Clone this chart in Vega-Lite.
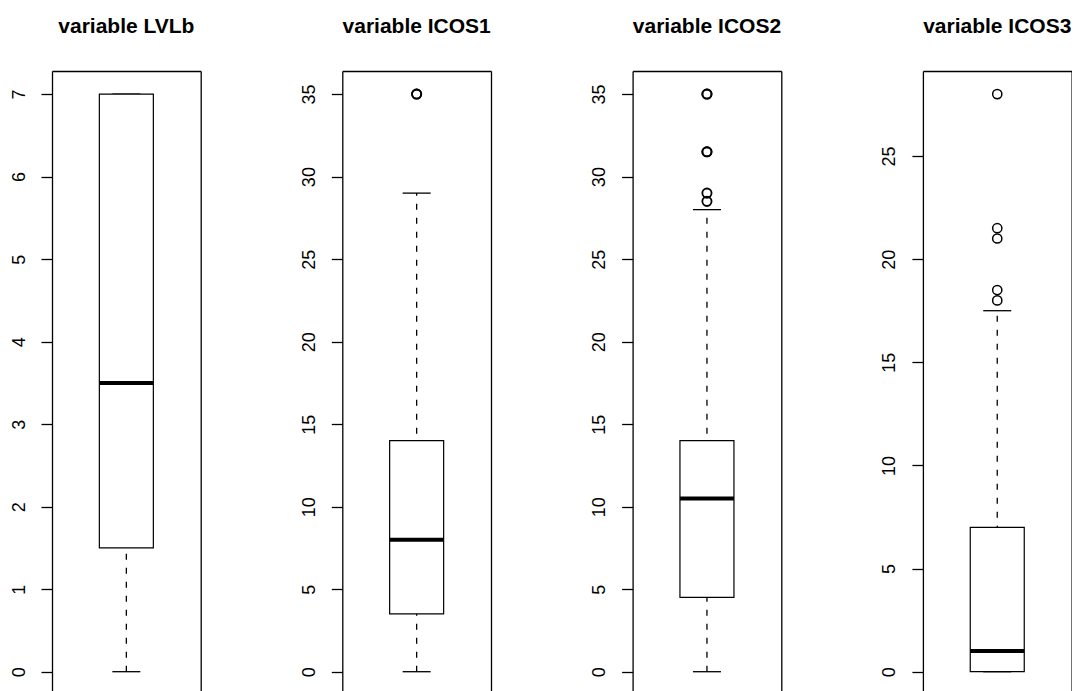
{
  "$schema": "https://vega.github.io/schema/vega-lite/v6.json",
  "padding": {"left": 10, "top": 16, "right": 0, "bottom": 0},
  "background": "white",
  "datasets": {
    "stats": [
      {"variable": "LVLb", "lower": 0, "q1": 1.5, "median": 3.5, "q3": 7, "upper": 7},
      {"variable": "ICOS1", "lower": 0, "q1": 3.5, "median": 8, "q3": 14, "upper": 29},
      {"variable": "ICOS2", "lower": 0, "q1": 4.5, "median": 10.5, "q3": 14, "upper": 28},
      {"variable": "ICOS3", "lower": 0, "q1": 0, "median": 1, "q3": 7, "upper": 17.5}
    ],
    "outliers": [
      {"variable": "ICOS1", "value": 35},
      {"variable": "ICOS1", "value": 35},
      {"variable": "ICOS2", "value": 35},
      {"variable": "ICOS2", "value": 35},
      {"variable": "ICOS2", "value": 31.5},
      {"variable": "ICOS2", "value": 31.5},
      {"variable": "ICOS2", "value": 29},
      {"variable": "ICOS2", "value": 28.5},
      {"variable": "ICOS3", "value": 28},
      {"variable": "ICOS3", "value": 21.5},
      {"variable": "ICOS3", "value": 21},
      {"variable": "ICOS3", "value": 18.5},
      {"variable": "ICOS3", "value": 18}
    ]
  },
  "spacing": 141.3,
  "bounds": "flush",
  "hconcat": [
    {
      "width": 148.7, "height": 620,
      "title": {"text": "variable LVLb"},
      "encoding": {"x": {"datum": 1, "type": "quantitative", "scale": {"domain": [0, 2]}, "axis": {"orient": "top", "domain": true, "ticks": false, "labels": false, "title": null, "grid": false}}},
      "resolve": {"axis": {"y": "independent"}},
      "layer": [
        {"data": {"name": "stats"}, "transform": [{"filter": "datum.variable === 'LVLb'"}],
         "mark": {"type": "rule", "strokeDash": [6, 8], "strokeWidth": 1.3, "color": "black", "opacity": 1},
         "encoding": {"y": {"field": "lower", "type": "quantitative", "scale": {"domain": [-0.234, 7.28], "nice": false, "zero": false}, "axis": {"orient": "left", "values": [0, 1, 2, 3, 4, 5, 6, 7], "title": null}}, "y2": {"field": "upper"}}},
        {"data": {"name": "stats"}, "transform": [{"filter": "datum.variable === 'LVLb'"}],
         "mark": {"type": "tick", "orient": "horizontal", "size": 28, "thickness": 1.3, "color": "black", "opacity": 1},
         "encoding": {"y": {"field": "upper", "type": "quantitative", "scale": {"domain": [-0.234, 7.28], "nice": false, "zero": false}, "axis": {"orient": "right", "labels": false, "ticks": false, "domain": true, "title": null}}}},
        {"data": {"name": "stats"}, "transform": [{"filter": "datum.variable === 'LVLb'"}],
         "mark": {"type": "tick", "orient": "horizontal", "size": 28, "thickness": 1.3, "color": "black", "opacity": 1},
         "encoding": {"y": {"field": "lower", "type": "quantitative", "scale": {"domain": [-0.234, 7.28], "nice": false, "zero": false}, "axis": null}}},
        {"data": {"name": "stats"}, "transform": [{"filter": "datum.variable === 'LVLb'"}],
         "mark": {"type": "bar", "size": 54, "fill": "white", "stroke": "black", "strokeWidth": 1.2, "opacity": 1},
         "encoding": {"y": {"field": "q1", "type": "quantitative", "scale": {"domain": [-0.234, 7.28], "nice": false, "zero": false}, "axis": null}, "y2": {"field": "q3"}}},
        {"data": {"name": "stats"}, "transform": [{"filter": "datum.variable === 'LVLb'"}],
         "mark": {"type": "tick", "orient": "horizontal", "size": 54, "thickness": 4, "color": "black", "opacity": 1},
         "encoding": {"y": {"field": "median", "type": "quantitative", "scale": {"domain": [-0.234, 7.28], "nice": false, "zero": false}, "axis": null}}}
      ]
    },
    {
      "width": 148.7, "height": 620,
      "title": {"text": "variable ICOS1"},
      "encoding": {"x": {"datum": 1, "type": "quantitative", "scale": {"domain": [0, 2]}, "axis": {"orient": "top", "domain": true, "ticks": false, "labels": false, "title": null, "grid": false}}},
      "resolve": {"axis": {"y": "independent"}},
      "layer": [
        {"data": {"name": "stats"}, "transform": [{"filter": "datum.variable === 'ICOS1'"}],
         "mark": {"type": "rule", "strokeDash": [6, 8], "strokeWidth": 1.3, "color": "black", "opacity": 1},
         "encoding": {"y": {"field": "lower", "type": "quantitative", "scale": {"domain": [-1.169, 36.4], "nice": false, "zero": false}, "axis": {"orient": "left", "values": [0, 5, 10, 15, 20, 25, 30, 35], "title": null}}, "y2": {"field": "upper"}}},
        {"data": {"name": "stats"}, "transform": [{"filter": "datum.variable === 'ICOS1'"}],
         "mark": {"type": "tick", "orient": "horizontal", "size": 28, "thickness": 1.3, "color": "black", "opacity": 1},
         "encoding": {"y": {"field": "upper", "type": "quantitative", "scale": {"domain": [-1.169, 36.4], "nice": false, "zero": false}, "axis": {"orient": "right", "labels": false, "ticks": false, "domain": true, "title": null}}}},
        {"data": {"name": "stats"}, "transform": [{"filter": "datum.variable === 'ICOS1'"}],
         "mark": {"type": "tick", "orient": "horizontal", "size": 28, "thickness": 1.3, "color": "black", "opacity": 1},
         "encoding": {"y": {"field": "lower", "type": "quantitative", "scale": {"domain": [-1.169, 36.4], "nice": false, "zero": false}, "axis": null}}},
        {"data": {"name": "stats"}, "transform": [{"filter": "datum.variable === 'ICOS1'"}],
         "mark": {"type": "bar", "size": 54, "fill": "white", "stroke": "black", "strokeWidth": 1.2, "opacity": 1},
         "encoding": {"y": {"field": "q1", "type": "quantitative", "scale": {"domain": [-1.169, 36.4], "nice": false, "zero": false}, "axis": null}, "y2": {"field": "q3"}}},
        {"data": {"name": "stats"}, "transform": [{"filter": "datum.variable === 'ICOS1'"}],
         "mark": {"type": "tick", "orient": "horizontal", "size": 54, "thickness": 4, "color": "black", "opacity": 1},
         "encoding": {"y": {"field": "median", "type": "quantitative", "scale": {"domain": [-1.169, 36.4], "nice": false, "zero": false}, "axis": null}}},
        {"data": {"name": "outliers"}, "transform": [{"filter": "datum.variable === 'ICOS1'"}],
         "mark": {"type": "point", "shape": "circle", "filled": false, "size": 85, "strokeWidth": 1.8, "color": "black", "opacity": 1},
         "encoding": {"y": {"field": "value", "type": "quantitative", "scale": {"domain": [-1.169, 36.4], "nice": false, "zero": false}, "axis": null}}}
      ]
    },
    {
      "width": 148.7, "height": 620,
      "title": {"text": "variable ICOS2"},
      "encoding": {"x": {"datum": 1, "type": "quantitative", "scale": {"domain": [0, 2]}, "axis": {"orient": "top", "domain": true, "ticks": false, "labels": false, "title": null, "grid": false}}},
      "resolve": {"axis": {"y": "independent"}},
      "layer": [
        {"data": {"name": "stats"}, "transform": [{"filter": "datum.variable === 'ICOS2'"}],
         "mark": {"type": "rule", "strokeDash": [6, 8], "strokeWidth": 1.3, "color": "black", "opacity": 1},
         "encoding": {"y": {"field": "lower", "type": "quantitative", "scale": {"domain": [-1.169, 36.4], "nice": false, "zero": false}, "axis": {"orient": "left", "values": [0, 5, 10, 15, 20, 25, 30, 35], "title": null}}, "y2": {"field": "upper"}}},
        {"data": {"name": "stats"}, "transform": [{"filter": "datum.variable === 'ICOS2'"}],
         "mark": {"type": "tick", "orient": "horizontal", "size": 28, "thickness": 1.3, "color": "black", "opacity": 1},
         "encoding": {"y": {"field": "upper", "type": "quantitative", "scale": {"domain": [-1.169, 36.4], "nice": false, "zero": false}, "axis": {"orient": "right", "labels": false, "ticks": false, "domain": true, "title": null}}}},
        {"data": {"name": "stats"}, "transform": [{"filter": "datum.variable === 'ICOS2'"}],
         "mark": {"type": "tick", "orient": "horizontal", "size": 28, "thickness": 1.3, "color": "black", "opacity": 1},
         "encoding": {"y": {"field": "lower", "type": "quantitative", "scale": {"domain": [-1.169, 36.4], "nice": false, "zero": false}, "axis": null}}},
        {"data": {"name": "stats"}, "transform": [{"filter": "datum.variable === 'ICOS2'"}],
         "mark": {"type": "bar", "size": 54, "fill": "white", "stroke": "black", "strokeWidth": 1.2, "opacity": 1},
         "encoding": {"y": {"field": "q1", "type": "quantitative", "scale": {"domain": [-1.169, 36.4], "nice": false, "zero": false}, "axis": null}, "y2": {"field": "q3"}}},
        {"data": {"name": "stats"}, "transform": [{"filter": "datum.variable === 'ICOS2'"}],
         "mark": {"type": "tick", "orient": "horizontal", "size": 54, "thickness": 4, "color": "black", "opacity": 1},
         "encoding": {"y": {"field": "median", "type": "quantitative", "scale": {"domain": [-1.169, 36.4], "nice": false, "zero": false}, "axis": null}}},
        {"data": {"name": "outliers"}, "transform": [{"filter": "datum.variable === 'ICOS2'"}],
         "mark": {"type": "point", "shape": "circle", "filled": false, "size": 85, "strokeWidth": 1.8, "color": "black", "opacity": 1},
         "encoding": {"y": {"field": "value", "type": "quantitative", "scale": {"domain": [-1.169, 36.4], "nice": false, "zero": false}, "axis": null}}}
      ]
    },
    {
      "width": 148.7, "height": 620,
      "title": {"text": "variable ICOS3"},
      "encoding": {"x": {"datum": 1, "type": "quantitative", "scale": {"domain": [0, 2]}, "axis": {"orient": "top", "domain": true, "ticks": false, "labels": false, "title": null, "grid": false}}},
      "resolve": {"axis": {"y": "independent"}},
      "layer": [
        {"data": {"name": "stats"}, "transform": [{"filter": "datum.variable === 'ICOS3'"}],
         "mark": {"type": "rule", "strokeDash": [6, 8], "strokeWidth": 1.3, "color": "black", "opacity": 1},
         "encoding": {"y": {"field": "lower", "type": "quantitative", "scale": {"domain": [-0.935, 29.12], "nice": false, "zero": false}, "axis": {"orient": "left", "values": [0, 5, 10, 15, 20, 25], "title": null}}, "y2": {"field": "upper"}}},
        {"data": {"name": "stats"}, "transform": [{"filter": "datum.variable === 'ICOS3'"}],
         "mark": {"type": "tick", "orient": "horizontal", "size": 28, "thickness": 1.3, "color": "black", "opacity": 1},
         "encoding": {"y": {"field": "upper", "type": "quantitative", "scale": {"domain": [-0.935, 29.12], "nice": false, "zero": false}, "axis": {"orient": "right", "labels": false, "ticks": false, "domain": true, "title": null}}}},
        {"data": {"name": "stats"}, "transform": [{"filter": "datum.variable === 'ICOS3'"}],
         "mark": {"type": "tick", "orient": "horizontal", "size": 28, "thickness": 1.3, "color": "black", "opacity": 1},
         "encoding": {"y": {"field": "lower", "type": "quantitative", "scale": {"domain": [-0.935, 29.12], "nice": false, "zero": false}, "axis": null}}},
        {"data": {"name": "stats"}, "transform": [{"filter": "datum.variable === 'ICOS3'"}],
         "mark": {"type": "bar", "size": 54, "fill": "white", "stroke": "black", "strokeWidth": 1.2, "opacity": 1},
         "encoding": {"y": {"field": "q1", "type": "quantitative", "scale": {"domain": [-0.935, 29.12], "nice": false, "zero": false}, "axis": null}, "y2": {"field": "q3"}}},
        {"data": {"name": "stats"}, "transform": [{"filter": "datum.variable === 'ICOS3'"}],
         "mark": {"type": "tick", "orient": "horizontal", "size": 54, "thickness": 4, "color": "black", "opacity": 1},
         "encoding": {"y": {"field": "median", "type": "quantitative", "scale": {"domain": [-0.935, 29.12], "nice": false, "zero": false}, "axis": null}}},
        {"data": {"name": "outliers"}, "transform": [{"filter": "datum.variable === 'ICOS3'"}],
         "mark": {"type": "point", "shape": "circle", "filled": false, "size": 85, "strokeWidth": 1.5, "color": "black", "opacity": 1},
         "encoding": {"y": {"field": "value", "type": "quantitative", "scale": {"domain": [-0.935, 29.12], "nice": false, "zero": false}, "axis": null}}}
      ]
    }
  ],
  "config": {
    "view": {"stroke": null},
    "axis": {
      "domainColor": "black", "domainWidth": 1.3, "tickColor": "black", "tickWidth": 1.3, "tickSize": 11,
      "labelColor": "black", "labelFont": "Liberation Sans", "labelFontSize": 18,
      "labelAngle": -90, "labelAlign": "center", "labelBaseline": "middle", "labelPadding": 22,
      "grid": false, "labelOverlap": false, "labelFlush": false
    },
    "title": {
      "font": "Liberation Sans", "fontSize": 21, "fontWeight": "bold", "color": "black",
      "anchor": "middle", "frame": "group", "baseline": "alphabetic", "offset": 34
    }
  }
}
